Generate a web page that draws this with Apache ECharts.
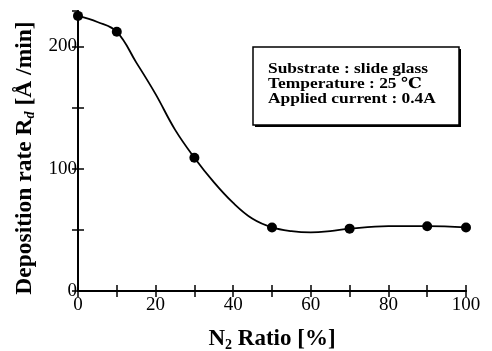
<!DOCTYPE html>
<html>
<head>
<meta charset="utf-8">
<script src="https://cdn.jsdelivr.net/npm/echarts@6/dist/echarts.min.js"></script>
<style>html,body{margin:0;padding:0;background:#fff;}#c{width:492px;height:351px;}</style>
</head>
<body>
<div id="c"></div>
<script>
const ratio = [0, 10, 30, 50, 70, 90, 100];
const rate = [225, 212, 109, 52, 51, 53, 52];
const curveX = [0, 5, 10, 15, 20, 25, 30, 35, 40, 45, 50, 55, 60, 65, 70, 80, 90, 100];
const curveY = [225, 220, 212, 187, 161, 132, 109, 89, 72, 59, 52, 49, 48, 49, 51, 53, 53, 52];
const xTicks = [0, 20, 40, 60, 80, 100];
const yTicks = [0, 100, 200];
const infoLines = ['Substrate : slide glass', 'Temperature : 25 \u2103', 'Applied current : 0.4A'];

const font = '"Liberation Serif", "DejaVu Serif", serif';
const chart = echarts.init(document.getElementById('c'));
const axisCommon = {
  axisLine: { lineStyle: { color: '#000', width: 2 } },
  axisTick: { inside: true, length: 6, lineStyle: { color: '#000', width: 1.5 } },
  splitLine: { show: false }
};
chart.setOption({
  animation: false,
  grid: { left: 78, right: 26, top: 11, bottom: 60, outerBoundsMode: 'none', containLabel: false },
  xAxis: [
    Object.assign({
      type: 'value', min: 0, max: 100, interval: 10, position: 'bottom',
      axisLabel: {
        color: '#000', fontFamily: font, fontSize: 19, margin: 5,
        formatter: v => xTicks.includes(v) ? String(v) : ''
      },
      name: '{b|N}{s|2}{b| Ratio [%]}',
      nameLocation: 'middle', nameGap: 35,
      nameTextStyle: {
        rich: {
          b: { fontFamily: font, fontWeight: 'bold', fontSize: 23, color: '#000' },
          s: { fontFamily: font, fontWeight: 'bold', fontSize: 14, color: '#000', verticalAlign: 'bottom', padding: [12, 0, 0, 0] }
        }
      }
    }, axisCommon),
    Object.assign({
      type: 'value', min: 0, max: 100, interval: 10, position: 'top',
      axisLabel: { show: false }
    }, axisCommon)
  ],
  yAxis: [
    Object.assign({
      type: 'value', min: 0, max: 229, interval: 50, position: 'left',
      axisLabel: {
        color: '#000', fontFamily: font, fontSize: 19, margin: 1,
        showMaxLabel: false,
        formatter: v => yTicks.includes(v) ? String(v) : ''
      },
      name: '{b|Deposition rate R}{s|d}{b| [Å /min]}',
      nameLocation: 'middle', nameGap: 38, nameRotate: 90,
      nameTextStyle: {
        padding: [0, 14, 0, 0],
        rich: {
          b: { fontFamily: font, fontWeight: 'bold', fontSize: 23.5, color: '#000' },
          s: { fontFamily: font, fontWeight: 'bold', fontStyle: 'italic', fontSize: 14, color: '#000', verticalAlign: 'bottom', padding: [12, 0, 0, 0] }
        }
      }
    }, axisCommon),
    Object.assign({
      type: 'value', min: 0, max: 229, interval: 50, position: 'right',
      axisLabel: { show: false }
    }, axisCommon)
  ],
  series: [
    {
      type: 'line', smooth: 0.4, showSymbol: false, silent: true,
      data: curveX.map((x, i) => [x, curveY[i]]),
      lineStyle: { color: '#000', width: 1.8 }
    },
    {
      type: 'scatter', symbol: 'circle', symbolSize: 10,
      data: ratio.map((x, i) => [x, rate[i]]),
      itemStyle: { color: '#000', opacity: 1 }
    }
  ],
  graphic: [
    { type: 'rect', shape: { x: 255, y: 49, width: 206, height: 78 }, style: { fill: '#000' } },
    { type: 'rect', shape: { x: 253, y: 47, width: 206, height: 78 }, style: { fill: '#fff', stroke: '#000', lineWidth: 1.5 } },
    {
      type: 'text', x: 268, y: 62, scaleX: 1.16,
      style: {
        text: infoLines.join('\n'),
        font: 'bold 15px ' + font, fill: '#000', lineHeight: 15, verticalAlign: 'top'
      }
    }
  ]
});
</script>
</body>
</html>
